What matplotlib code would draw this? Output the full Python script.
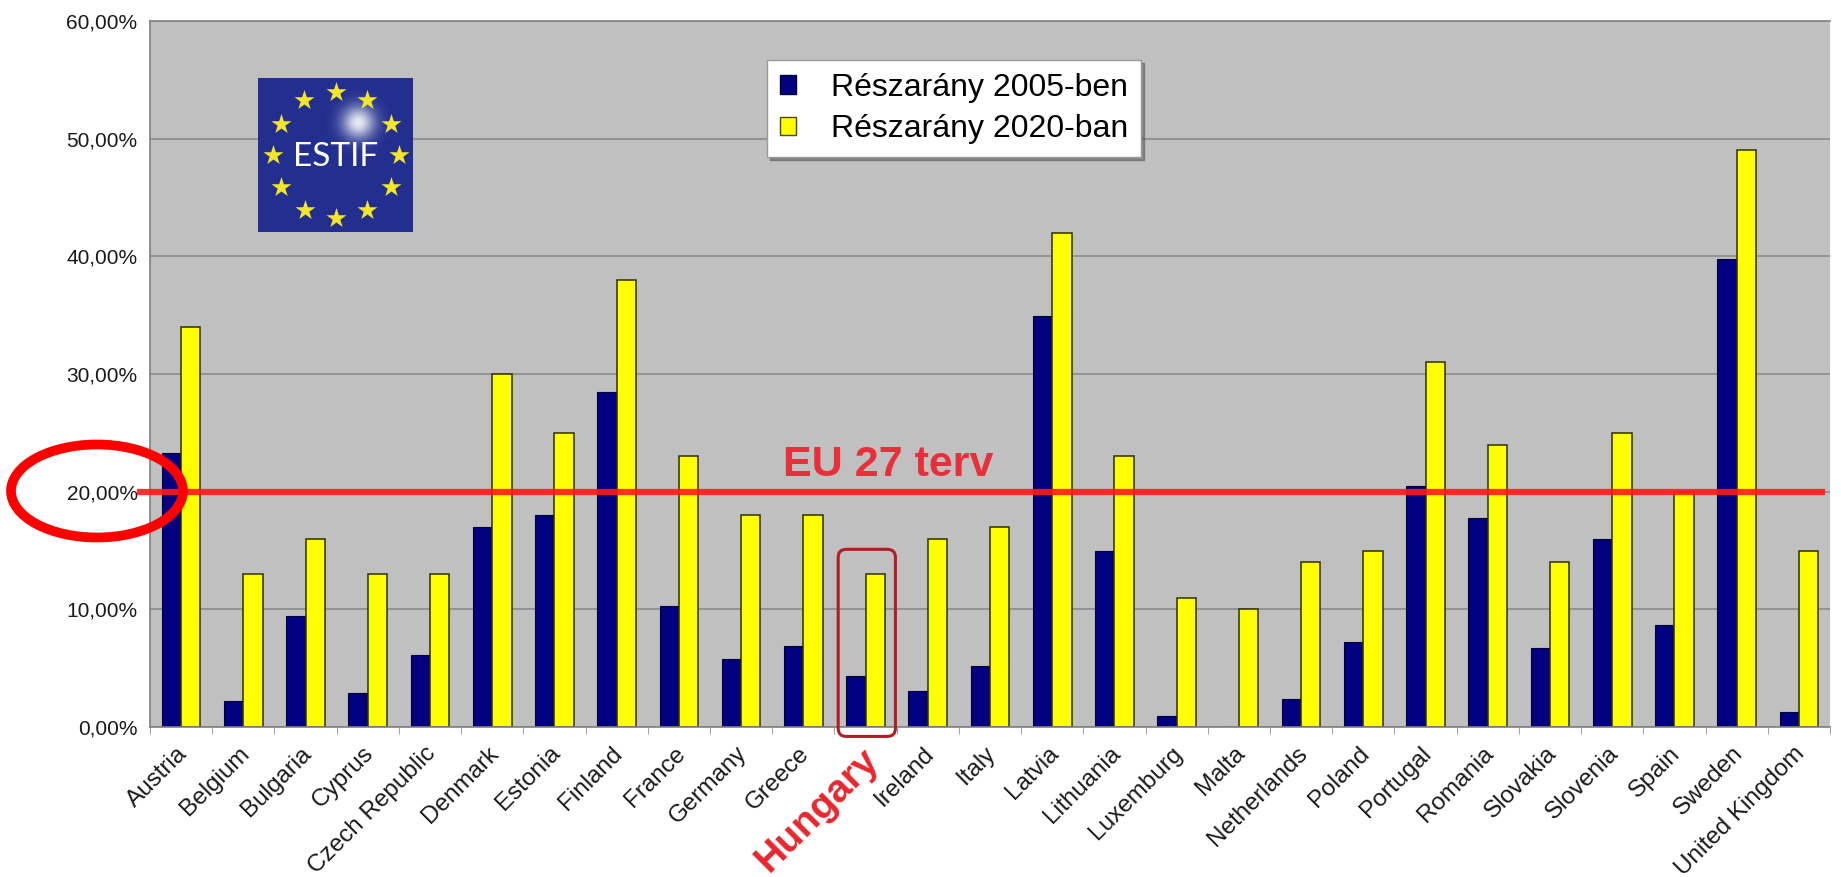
import numpy as np
import matplotlib.pyplot as plt
import matplotlib.transforms as mtransforms
from matplotlib.patches import Ellipse, FancyBboxPatch, Patch, Rectangle

countries = ["Austria", "Belgium", "Bulgaria", "Cyprus", "Czech Republic", "Denmark",
             "Estonia", "Finland", "France", "Germany", "Greece", "Hungary", "Ireland",
             "Italy", "Latvia", "Lithuania", "Luxemburg", "Malta", "Netherlands", "Poland",
             "Portugal", "Romania", "Slovakia", "Slovenia", "Spain", "Sweden", "United Kingdom"]
share_2005 = [23.3, 2.2, 9.4, 2.9, 6.1, 17.0, 18.0, 28.5, 10.3, 5.8, 6.9, 4.3, 3.1,
              5.2, 34.9, 15.0, 0.9, 0.0, 2.4, 7.2, 20.5, 17.8, 6.7, 16.0, 8.7, 39.8, 1.3]
share_2020 = [34, 13, 16, 13, 13, 30, 25, 38, 23, 18, 18, 13, 16,
              17, 42, 23, 11, 10, 14, 15, 31, 24, 14, 25, 20, 49, 15]
legend_labels = ["Részarány 2005-ben", "Részarány 2020-ban"]
target = 20
yticks = [0, 10, 20, 30, 40, 50, 60]

W, H = 1841, 877
narrow = ["Liberation Sans Narrow", "Liberation Sans", "DejaVu Sans"]
plt.rcParams["font.family"] = ["Liberation Sans", "DejaVu Sans"]

fig = plt.figure(figsize=(W / 100, H / 100), dpi=100)
ax = fig.add_axes([150 / W, 1 - 727 / H, 1680 / W, 706 / H])
ax.set_facecolor("#c0c0c0")

x = np.arange(len(countries))
bw = 0.31
ax.bar(x - bw / 2, share_2005, bw, color="#000080", edgecolor="#00003a", linewidth=0.8, zorder=2)
ax.bar(x + bw / 2, share_2020, bw, color="#ffff00", edgecolor="#2e2e00", linewidth=1.1, zorder=2)

ax.set_xlim(-0.5, len(countries) - 0.5)
ax.set_ylim(0, 60)
ax.set_yticks(yticks)
ax.set_yticklabels([f"{v},00%" for v in yticks], family=narrow, fontsize=15, color="#1a1a1a")
ax.yaxis.grid(True, color="#8a8a8a", linewidth=1.2)
ax.set_axisbelow(True)
ax.tick_params(axis="y", length=0, pad=9)

ax.set_xticks(x)
ax.set_xticks(np.arange(-0.5, len(countries)), minor=True)
ax.tick_params(axis="x", which="major", length=0, pad=11)
ax.tick_params(axis="x", which="minor", length=5, color="#909090")
ax.set_xticklabels(countries, rotation=45, ha="right", rotation_mode="anchor",
                   family=narrow, fontsize=17.5, color="#1a1a1a")
shift = mtransforms.ScaledTranslation(-5 / 100, 0, fig.dpi_scale_trans)
for lab in ax.get_xticklabels():
    lab.set_transform(lab.get_transform() + shift)
    if lab.get_text() == "Hungary":
        lab.set_color("#e8262e")
        lab.set_fontsize(28)
        lab.set_fontweight("bold")
        lab.set_family(["Liberation Sans", "DejaVu Sans"])

for side in ["left", "bottom", "top"]:
    ax.spines[side].set_color("#808080")
    ax.spines[side].set_linewidth(1.2)
ax.spines["right"].set_visible(False)

# EU 27 target line
ax.axhline(target, xmin=-0.006, xmax=0.995, color="#ff1a1a", linewidth=4.5,
           alpha=0.9, clip_on=False, zorder=4)
ax.text(11.36, 22.3, "EU 27 terv", color="#e8303a", fontsize=31, fontweight="bold",
        ha="center", va="center", zorder=5)

# box around Hungary
hu = countries.index("Hungary")
ax.add_patch(FancyBboxPatch((hu - 0.44, -0.8), 0.92, 15.9,
                            boxstyle="round,pad=0,rounding_size=0.13", mutation_aspect=5.3,
                            fill=False, edgecolor="#b01e24", linewidth=2.2,
                            clip_on=False, zorder=5))

# ellipse around the 20% label
fig.add_artist(Ellipse((97 / W, 1 - 491 / H), 172 / W, 93 / H, transform=fig.transFigure,
                       fill=False, edgecolor="#ff0000", linewidth=7))

# legend
handles = [Patch(facecolor="#000080", edgecolor="#00003a"),
           Patch(facecolor="#ffff00", edgecolor="#4a4a00")]
fig.legend(handles, legend_labels, loc="upper left", bbox_to_anchor=(767 / W, 1 - 60 / H),
           bbox_transform=fig.transFigure, fontsize=23, frameon=True, fancybox=False,
           shadow=True, edgecolor="#9a9a9a", facecolor="white", framealpha=1,
           handlelength=0.5, handleheight=0.5, handletextpad=1.1,
           borderpad=0.4, labelspacing=0.35, borderaxespad=0)

# ESTIF logo
lax = fig.add_axes([258 / W, 1 - 232 / H, 155 / W, 154 / H])
lax.set_xlim(0, 155)
lax.set_ylim(0, 154)
lax.axis("off")
lax.add_patch(Rectangle((0, 0), 155, 154, color="#232f8e", zorder=0))
gy, gx = np.mgrid[0:154, 0:155]
glow = np.zeros((154, 155, 4))
glow[..., :3] = 1.0
glow[..., 3] = 0.9 * np.exp(-(((gx - 100) ** 2 + (gy - 109) ** 2) / 16.0 ** 2))
lax.imshow(glow, extent=(0, 155, 0, 154), origin="lower", zorder=1, aspect="auto")
ang = np.deg2rad(90 - 30 * np.arange(12))
lax.scatter(78 + 63 * np.cos(ang), 77 + 63 * np.sin(ang), marker="*", s=230,
            color="#f2e52a", linewidths=0, zorder=3)
lax.text(78, 75, "ESTIF", color="white", fontsize=24, family=["Lato", "DejaVu Sans"],
         ha="center", va="center", zorder=4)

fig.savefig("out.png", dpi=100, facecolor="white")
